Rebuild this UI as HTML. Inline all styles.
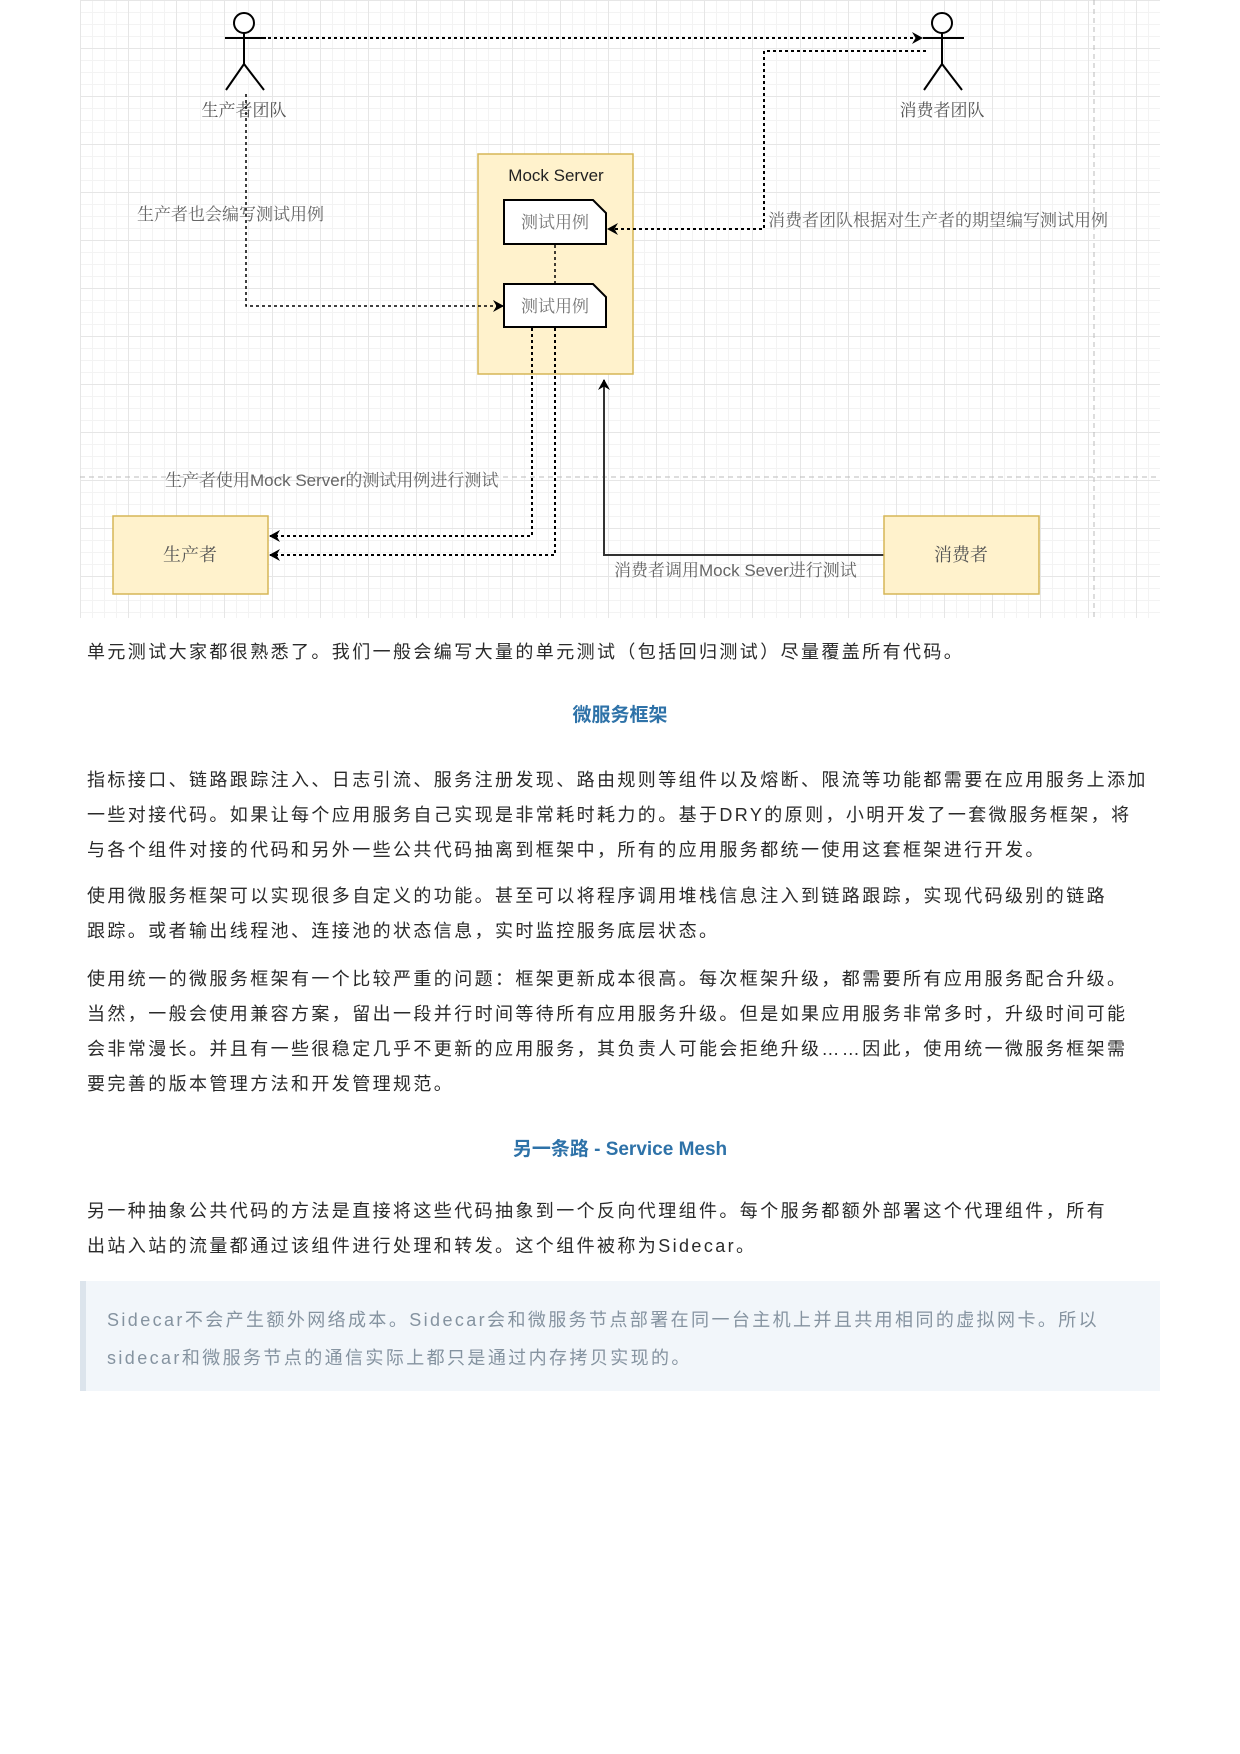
<!DOCTYPE html>
<html><head><meta charset="utf-8">
<style>
body{margin:0;width:1240px;height:1754px;background:#fff;position:relative;overflow:hidden;font-family:"Liberation Sans","Noto Sans CJK SC",sans-serif;}
.grid{position:absolute;left:80px;top:0;width:1080px;height:618px;
background-image:linear-gradient(#e6e6e6 1px,transparent 1px),linear-gradient(90deg,#e6e6e6 1px,transparent 1px),linear-gradient(#f3f3f3 1px,transparent 1px),linear-gradient(90deg,#f3f3f3 1px,transparent 1px);
background-size:48px 48px,48px 48px,12px 12px,12px 12px;}
.t{position:absolute;white-space:nowrap;color:#2a2a2a;font-size:18px;letter-spacing:2.4px;font-family:"Liberation Sans","Noto Sans CJK SC",sans-serif;}
.h{position:absolute;left:0;width:1240px;text-align:center;color:#2e72a8;font-weight:bold;font-size:19px;}
</style></head><body>
<div class="grid"></div>
<svg width="1240" height="620" style="position:absolute;left:0;top:0" font-family="Liberation Serif, Noto Serif CJK SC, serif">
<defs><marker id="a" markerWidth="12" markerHeight="12" refX="10" refY="6" orient="auto" markerUnits="userSpaceOnUse"><path d="M0,0 L11,6 L0,12 L3.5,6z" fill="#000"/></marker></defs>
<line x1="1094" y1="0" x2="1094" y2="618" stroke="#bbb" stroke-dasharray="5,4"/>
<line x1="80" y1="477" x2="1160" y2="477" stroke="#bbb" stroke-dasharray="5,4"/>
<g stroke="#000" stroke-width="2" fill="#fff">
<circle cx="244" cy="23" r="10"/><line x1="225" y1="38" x2="266" y2="38"/><line x1="244" y1="33" x2="244" y2="64"/><polyline fill="none" points="226,90 244,64 264,90"/>
<circle cx="942" cy="23" r="10"/><line x1="923" y1="38" x2="964" y2="38"/><line x1="942" y1="33" x2="942" y2="64"/><polyline fill="none" points="924,90 942,64 962,90"/>
</g>
<text x="244" y="116" font-size="17" fill="#555" text-anchor="middle">生产者团队</text>
<text x="942" y="116" font-size="17" fill="#555" text-anchor="middle">消费者团队</text>
<rect x="478" y="154" width="155" height="220" fill="#fff2cc" stroke="#d6b656" stroke-width="1.5"/>
<text x="556" y="181" font-size="17" fill="#222" text-anchor="middle" font-family="Liberation Sans, sans-serif">Mock Server</text>
<g stroke="#000" stroke-width="2" fill="#fff">
<path d="M504,200 L593,200 L606,213 L606,244 L504,244z"/>
<path d="M504,284 L593,284 L606,297 L606,327 L504,327z"/>
</g>
<g fill="none" stroke="#000" stroke-width="2" stroke-dasharray="3,3">
<line x1="268" y1="38" x2="922" y2="38" marker-end="url(#a)"/>
<polyline points="926,51 764,51 764,229 608,229" marker-end="url(#a)"/>
<polyline points="246,94 246,306 503,306" marker-end="url(#a)" stroke-width="1.5"/>
<line x1="555" y1="245" x2="555" y2="283" stroke-width="1.5"/>
<polyline points="532,328 532,536 270,536" marker-end="url(#a)"/>
<polyline points="555,328 555,555 270,555" marker-end="url(#a)"/>
</g>
<polyline points="885,555 604,555 604,380" fill="none" stroke="#333" stroke-width="2" marker-end="url(#a)"/>
<text x="555" y="228" font-size="17" fill="#777" text-anchor="middle">测试用例</text>
<text x="555" y="312" font-size="17" fill="#777" text-anchor="middle">测试用例</text>
<rect x="113" y="516" width="155" height="78" fill="#fff2cc" stroke="#d6b656" stroke-width="1.5"/>
<rect x="884" y="516" width="155" height="78" fill="#fff2cc" stroke="#d6b656" stroke-width="1.5"/>
<text x="190" y="561" font-size="18" fill="#555" text-anchor="middle">生产者</text>
<text x="961" y="561" font-size="18" fill="#555" text-anchor="middle">消费者</text>
<text x="137" y="220" font-size="17" fill="#666">生产者也会编写测试用例</text>
<text x="768" y="226" font-size="17" fill="#666">消费者团队根据对生产者的期望编写测试用例</text>
<text x="165" y="486" font-size="17" fill="#666">生产者使用<tspan font-family="Liberation Sans, sans-serif">Mock Server</tspan>的测试用例进行测试</text>
<text x="614" y="576" font-size="17" fill="#666">消费者调用<tspan font-family="Liberation Sans, sans-serif">Mock Sever</tspan>进行测试</text>
</svg>

<div class="t" style="left:87px;top:638px">单元测试大家都很熟悉了。我们一般会编写大量的单元测试（包括回归测试）尽量覆盖所有代码。</div>
<div class="h" style="top:700px">微服务框架</div>
<div class="t" style="left:87px;top:766px">指标接口、链路跟踪注入、日志引流、服务注册发现、路由规则等组件以及熔断、限流等功能都需要在应用服务上添加</div>
<div class="t" style="left:87px;top:801px">一些对接代码。如果让每个应用服务自己实现是非常耗时耗力的。基于DRY的原则，小明开发了一套微服务框架，将</div>
<div class="t" style="left:87px;top:836px">与各个组件对接的代码和另外一些公共代码抽离到框架中，所有的应用服务都统一使用这套框架进行开发。</div>
<div class="t" style="left:87px;top:882px">使用微服务框架可以实现很多自定义的功能。甚至可以将程序调用堆栈信息注入到链路跟踪，实现代码级别的链路</div>
<div class="t" style="left:87px;top:917px">跟踪。或者输出线程池、连接池的状态信息，实时监控服务底层状态。</div>
<div class="t" style="left:87px;top:965px">使用统一的微服务框架有一个比较严重的问题：框架更新成本很高。每次框架升级，都需要所有应用服务配合升级。</div>
<div class="t" style="left:87px;top:1000px">当然，一般会使用兼容方案，留出一段并行时间等待所有应用服务升级。但是如果应用服务非常多时，升级时间可能</div>
<div class="t" style="left:87px;top:1035px">会非常漫长。并且有一些很稳定几乎不更新的应用服务，其负责人可能会拒绝升级……因此，使用统一微服务框架需</div>
<div class="t" style="left:87px;top:1070px">要完善的版本管理方法和开发管理规范。</div>
<div class="h" style="top:1134px">另一条路 - Service Mesh</div>
<div class="t" style="left:87px;top:1197px">另一种抽象公共代码的方法是直接将这些代码抽象到一个反向代理组件。每个服务都额外部署这个代理组件，所有</div>
<div class="t" style="left:87px;top:1232px">出站入站的流量都通过该组件进行处理和转发。这个组件被称为Sidecar。</div>
<div style="position:absolute;left:80px;top:1281px;width:1080px;height:110px;background:#f2f6fa;border-left:6px solid #dce4ec;box-sizing:border-box"></div>
<div class="t" style="left:107px;top:1306px;color:#8593a0">Sidecar不会产生额外网络成本。Sidecar会和微服务节点部署在同一台主机上并且共用相同的虚拟网卡。所以</div>
<div class="t" style="left:107px;top:1344px;color:#8593a0">sidecar和微服务节点的通信实际上都只是通过内存拷贝实现的。</div>
</body></html>
